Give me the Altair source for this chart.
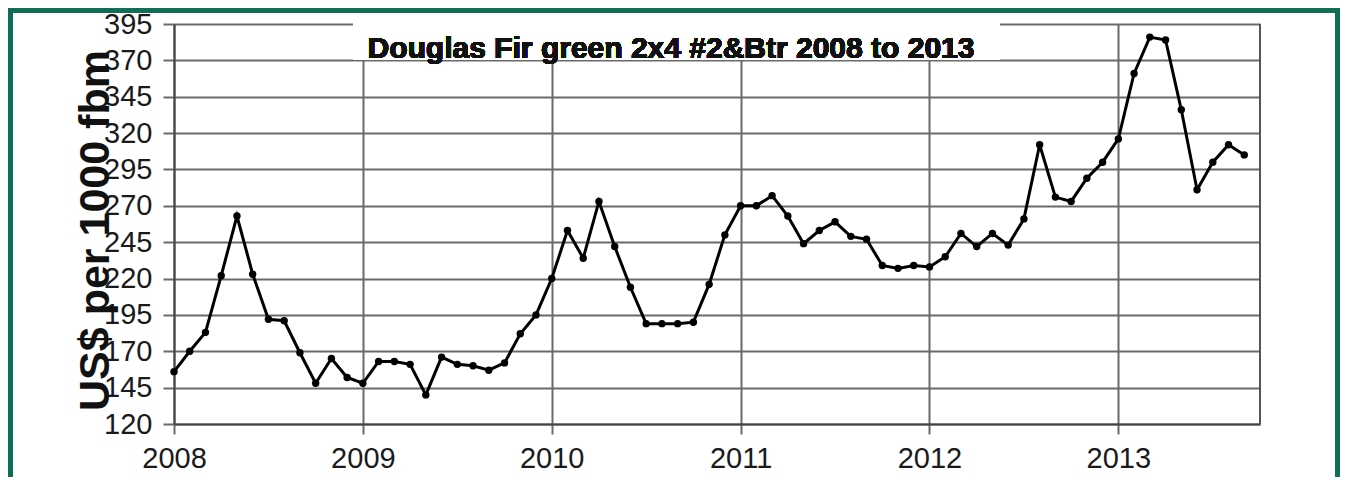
import altair as alt
import pandas as pd

# Monthly prices, US$ per 1000 fbm (Jan .. Dec)
prices_2008 = [156, 170, 183, 222, 263, 223, 192, 191, 169, 148, 165, 152]
prices_2009 = [148, 163, 163, 161, 140, 166, 161, 160, 157, 162, 182, 195]
prices_2010 = [220, 253, 234, 273, 242, 214, 189, 189, 189, 190, 216, 250]
prices_2011 = [270, 270, 277, 263, 244, 253, 259, 249, 247, 229, 227, 229]
prices_2012 = [228, 235, 251, 242, 251, 243, 261, 312, 276, 273, 289, 300]
prices_2013 = [316, 361, 386, 384, 336, 281, 300, 312, 305]

years = [2008, 2009, 2010, 2011, 2012, 2013]
series = [prices_2008, prices_2009, prices_2010, prices_2011, prices_2012, prices_2013]

y_ticks = [120, 145, 170, 195, 220, 245, 270, 295, 320, 345, 370, 395]
x_ticks = years
title_text = "Douglas Fir green 2x4 #2&Btr 2008 to 2013"
y_title = "US$ per 1000 fbm"

rows = []
for yr, vals in zip(years, series):
    for m, v in enumerate(vals):
        rows.append({"t": yr + m / 12.0, "price": v})
df = pd.DataFrame(rows)

FONT = "Liberation Sans"
GRID = "#6a6a6a"
GREEN = "#0f6e55"
W, H = 1086, 400

x_enc = alt.X(
    "t:Q",
    scale=alt.Scale(domain=[2008, 2013.75], nice=False, zero=False),
    axis=alt.Axis(
        values=x_ticks, tickCount=len(x_ticks), format="d", title=None,
        grid=True, gridColor=GRID, gridWidth=2, gridOpacity=1,
        domain=True, domainColor="#444", domainWidth=2,
        ticks=True, tickSize=10, tickColor=GRID, tickWidth=2,
        labelFont=FONT, labelFontSize=29, labelColor="#1a1a1a",
        labelPadding=10, labelOverlap=False, labelFlush=False,
    ),
)
y_enc = alt.Y(
    "price:Q",
    scale=alt.Scale(domain=[120, 395], nice=False, zero=False),
    axis=alt.Axis(
        values=y_ticks, tickCount=len(y_ticks), title=y_title,
        grid=True, gridColor=GRID, gridWidth=2, gridOpacity=1,
        domain=True, domainColor="#444", domainWidth=2,
        ticks=True, tickSize=11, tickColor=GRID, tickWidth=2,
        labelFont=FONT, labelFontSize=29, labelColor="#1a1a1a",
        labelPadding=11, labelOverlap=False, labelBound=False, labelFlush=False,
        titleFont=FONT, titleFontSize=43, titleFontWeight="bold", titleColor="#111",
        titleAngle=270, titleAlign="center", titleBaseline="alphabetic",
        titleX=-66, titleY=206,
    ),
)

line = alt.Chart(df).mark_line(color="black", strokeWidth=3).encode(x=x_enc, y=y_enc)
pts = alt.Chart(df).mark_circle(color="black", size=55, opacity=1).encode(x="t:Q", y="price:Q")

# right border of the plot area
border = alt.Chart(df).mark_rule(color="#555", strokeWidth=2).encode(
    x=alt.value(W), y=alt.value(0), y2=alt.value(H)
)

# white box behind the title
box = alt.Chart(df).mark_rect(color="white", opacity=1).encode(
    x=alt.value(179), x2=alt.value(826), y=alt.value(-7), y2=alt.value(36)
)
title = alt.Chart(df).mark_text(
    text=title_text, font=FONT, fontSize=30, fontWeight="bold",
    color="#111", align="center", baseline="alphabetic",
).encode(x=alt.value(497), y=alt.value(34))

# green outer frame
frame = alt.Chart(df).mark_rect(
    fill=None, filled=False, stroke=GREEN, strokeWidth=5, clip=False
).encode(
    x=alt.value(-163.5), x2=alt.value(1163.5), y=alt.value(-13.5), y2=alt.value(480)
)

chart = alt.layer(line, pts, border, box, title, frame).properties(
    width=W, height=H,
    autosize=alt.AutoSizeParams(type="none"),
    padding={"left": 166, "top": 16, "right": 80, "bottom": 53},
).configure_view(stroke=None).configure(background="white")

chart.save("out.html", embed_options={"renderer": "svg", "actions": False})
